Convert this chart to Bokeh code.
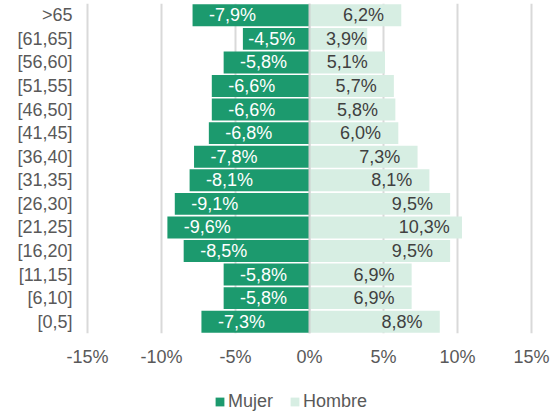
from bokeh.plotting import figure
from bokeh.layouts import column
from bokeh.models import ColumnDataSource, Legend, LegendItem, Span, FixedTicker, CustomJSTickFormatter
from bokeh.core.properties import value
from bokeh.embed import file_html
from bokeh.resources import INLINE

categories = ["[0,5]", "[6,10]", "[11,15]", "[16,20]", "[21,25]", "[26,30]", "[31,35]",
              "[36,40]", "[41,45]", "[46,50]", "[51,55]", "[56,60]", "[61,65]", ">65"]
mujer = [-7.3, -5.8, -5.8, -8.5, -9.6, -9.1, -8.1, -7.8, -6.8, -6.6, -6.6, -5.8, -4.5, -7.9]
hombre = [8.8, 6.9, 6.9, 9.5, 10.3, 9.5, 8.1, 7.3, 6.0, 5.8, 5.7, 5.1, 3.9, 6.2]
x_ticks = [-15, -10, -5, 0, 5, 10, 15]
series_names = ["Mujer", "Hombre"]

DARK = "#1c9a6e"
LIGHT = "#d7eee3"
FONT = "Liberation Sans"

def fmt(v):
    return ("%.1f%%" % v).replace(".", ",")

src = ColumnDataSource(dict(
    cat=categories,
    mujer=mujer,
    hombre=hombre,
    mujer_lbl=[fmt(v) for v in mujer],
    hombre_lbl=[fmt(v) for v in hombre],
    mujer_x=[min(v + 2.7, -2.55) for v in mujer],
    hombre_x=[max(v - 2.55, 2.5) for v in hombre],
))

p = figure(width=554, height=373, y_range=categories, x_range=(-15.2, 15.2),
           output_backend="svg", toolbar_location=None,
           min_border_left=84, min_border_right=20, min_border_top=3, min_border_bottom=40)
p.outline_line_color = None
p.background_fill_color = "white"
p.border_fill_color = "white"

p.hbar(y="cat", left=0, right="mujer", height=0.93, source=src, fill_color=DARK, line_color=None)
p.hbar(y="cat", left=0, right="hombre", height=0.93, source=src, fill_color=LIGHT, line_color=None)

p.add_layout(Span(location=0, dimension="height", line_color="#d0d0d0", line_width=2))

p.text(x="mujer_x", y="cat", text="mujer_lbl", source=src, text_align="center",
       text_baseline="middle", text_color="white", text_font=value(FONT), text_font_size="18px")
p.text(x="hombre_x", y="cat", text="hombre_lbl", source=src, text_align="center",
       text_baseline="middle", text_color="#404040", text_font=value(FONT), text_font_size="18px")

p.ygrid.grid_line_color = None
p.xgrid.grid_line_color = "#d9d9d9"
p.xgrid.grid_line_width = 2
p.xaxis.ticker = FixedTicker(ticks=x_ticks)
p.xaxis.formatter = CustomJSTickFormatter(code="return tick + '%';")

for ax in (p.xaxis, p.yaxis):
    ax.axis_line_color = None
    ax.major_tick_line_color = None
    ax.minor_tick_line_color = None
    ax.major_tick_out = 0
    ax.major_tick_in = 0
    ax.major_label_text_font = FONT
    ax.major_label_text_font_size = "18px"
    ax.major_label_text_color = "#595959"
p.xaxis.major_label_standoff = 13
p.yaxis.major_label_standoff = 12

# legend strip (zero-size proxy bars carry the legend swatches)
lg = figure(width=554, height=40, output_backend="svg", toolbar_location=None,
            x_axis_type=None, y_axis_type=None, min_border=0,
            x_range=(0, 1), y_range=(0, 1))
lg.outline_line_color = None
lg.grid.grid_line_color = None
r1 = lg.hbar(y=[0], left=[0], right=[0], height=0, fill_color=DARK, line_color=None)
r2 = lg.hbar(y=[0], left=[0], right=[0], height=0, fill_color=LIGHT, line_color=None)
legend = Legend(items=[LegendItem(label=series_names[0], renderers=[r1]),
                       LegendItem(label=series_names[1], renderers=[r2])],
                orientation="horizontal", location=(130, 1),
                glyph_width=11, glyph_height=11, label_height=20,
                label_standoff=3, spacing=16, padding=0, margin=0,
                border_line_color=None, background_fill_alpha=0,
                label_text_font=FONT, label_text_font_size="18px",
                label_text_color="#595959")
lg.add_layout(legend, "center")

layout = column(p, lg, spacing=0)
open("out.html", "w").write(file_html(layout, INLINE))
